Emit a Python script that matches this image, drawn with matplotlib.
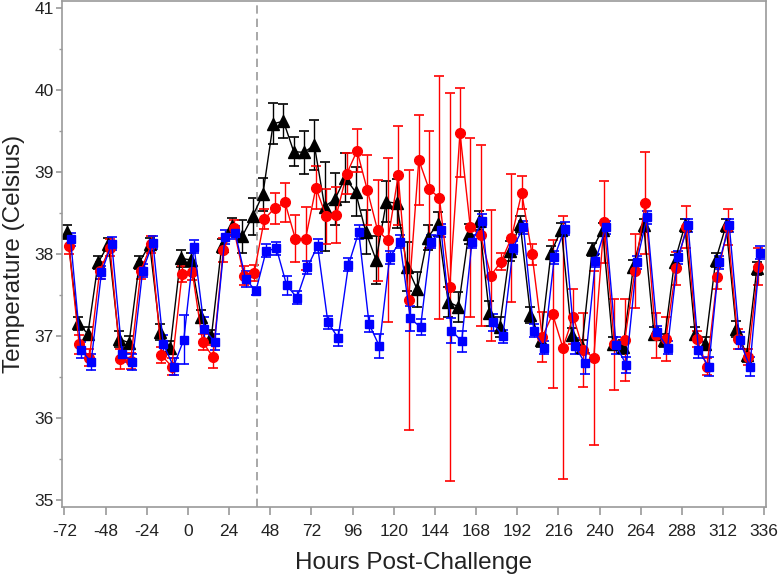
import numpy as np
import matplotlib
matplotlib.use("Agg")
import matplotlib.pyplot as plt
from matplotlib.ticker import MultipleLocator

plt.rcParams['font.family'] = ['Liberation Sans', 'DejaVu Sans']

# sampling times (hours post-challenge), every 6 h
hours = np.arange(-70, 333, 6)

black_vals = [
    38.27, 37.16, 37.03, 37.90, 38.12, 36.97, 36.92, 37.90, 38.12, 37.05, 36.86, 37.95,
    37.93, 37.24, 37.00, 38.10, 38.34, 38.22, 38.46, 38.73, 39.59, 39.62, 39.25, 39.24,
    39.33, 38.58, 38.67, 38.93, 38.76, 38.27, 37.93, 38.64, 38.62, 37.85, 37.57, 38.20,
    38.37, 37.42, 37.36, 38.25, 38.41, 37.28, 37.11, 38.04, 38.37, 37.26, 36.95, 38.02,
    38.30, 37.02, 36.87, 38.06, 38.30, 36.91, 36.87, 37.85, 38.35, 37.03, 36.95, 37.91,
    38.35, 37.03, 36.91, 37.93, 38.35, 37.09, 36.77, 37.83]
black_err = [
    0.08, 0.08, 0.08, 0.08, 0.08, 0.10, 0.08, 0.08, 0.08, 0.10, 0.08, 0.10,
    0.08, 0.08, 0.08, 0.08, 0.10, 0.20, 0.23, 0.20, 0.25, 0.21, 0.18, 0.26,
    0.31, 0.54, 0.32, 0.30, 0.30, 0.27, 0.29, 0.25, 0.30, 0.30, 0.21, 0.15,
    0.15, 0.18, 0.18, 0.12, 0.12, 0.15, 0.12, 0.12, 0.10, 0.10, 0.08, 0.08,
    0.08, 0.08, 0.08, 0.08, 0.08, 0.08, 0.08, 0.08, 0.08, 0.08, 0.08, 0.08,
    0.08, 0.08, 0.08, 0.08, 0.08, 0.10, 0.08, 0.08]

red_vals = [
    38.10, 36.90, 36.74, 37.80, 38.08, 36.72, 36.70, 37.80, 38.12, 36.77, 36.63, 37.76,
    37.78, 36.93, 36.75, 38.05, 38.32, 37.74, 37.77, 38.43, 38.56, 38.63, 38.19, 38.19,
    38.81, 38.46, 38.48, 38.98, 39.26, 38.78, 38.29, 38.17, 38.96, 37.44, 39.15, 38.79,
    38.69, 37.60, 39.48, 38.33, 38.23, 37.74, 37.91, 38.20, 38.75, 38.00, 36.99, 37.27,
    36.86, 37.24, 36.83, 36.74, 38.39, 36.90, 36.95, 37.80, 38.62, 37.01, 36.97, 37.83,
    38.33, 36.97, 36.63, 37.72, 38.33, 36.97, 36.75, 37.85]
red_err = [
    0.10, 0.12, 0.10, 0.10, 0.10, 0.12, 0.10, 0.10, 0.10, 0.10, 0.10, 0.10,
    0.10, 0.10, 0.14, 0.15, 0.10, 0.12, 0.10, 0.12, 0.19, 0.24, 0.29, 0.38,
    0.26, 0.34, 0.34, 0.25, 0.26, 0.43, 0.62, 1.00, 0.60, 1.58, 0.55, 0.71,
    1.48, 2.36, 0.54, 1.09, 1.10, 0.80, 0.10, 0.78, 0.20, 0.13, 0.30, 0.90,
    1.60, 0.33, 0.45, 1.06, 0.50, 0.55, 0.50, 0.45, 0.62, 0.27, 0.27, 0.20,
    0.26, 0.10, 0.10, 0.15, 0.22, 0.12, 0.10, 0.22]

blue_vals = [
    38.18, 36.83, 36.69, 37.78, 38.13, 36.79, 36.69, 37.80, 38.14, 36.91, 36.63, 36.96,
    38.09, 37.09, 36.93, 38.21, 38.26, 37.70, 37.55, 38.04, 38.07, 37.62, 37.47, 37.84,
    38.10, 37.17, 36.98, 37.87, 38.27, 37.15, 36.88, 37.96, 38.15, 37.22, 37.11, 38.15,
    38.29, 37.07, 36.94, 38.15, 38.41, 37.17, 37.00, 38.08, 38.33, 37.07, 36.86, 37.96,
    38.31, 36.88, 36.67, 37.92, 38.33, 36.89, 36.65, 37.90, 38.45, 37.05, 36.86, 37.96,
    38.35, 36.83, 36.63, 37.90, 38.35, 36.95, 36.63, 38.02]
blue_err = [
    0.08, 0.10, 0.10, 0.08, 0.08, 0.10, 0.10, 0.08, 0.08, 0.10, 0.10, 0.30,
    0.08, 0.15, 0.10, 0.08, 0.08, 0.10, 0.05, 0.08, 0.08, 0.12, 0.08, 0.08,
    0.08, 0.08, 0.10, 0.08, 0.08, 0.10, 0.15, 0.08, 0.08, 0.15, 0.10, 0.08,
    0.08, 0.15, 0.13, 0.08, 0.08, 0.10, 0.08, 0.08, 0.08, 0.08, 0.08, 0.08,
    0.08, 0.10, 0.13, 0.08, 0.08, 0.10, 0.10, 0.08, 0.08, 0.08, 0.08, 0.08,
    0.08, 0.10, 0.12, 0.08, 0.08, 0.10, 0.12, 0.08]

x_ticks = list(range(-72, 337, 24))
y_ticks = [35, 36, 37, 38, 39, 40, 41]
challenge_hour = 40

fig = plt.figure(figsize=(7.8, 5.78), dpi=100)
ax = fig.add_axes([62/780, 1 - 507/578, (766 - 62)/780, (507 - 1)/578])

series = [
    (black_vals, black_err, -0.3, 'black', '^', 8.0),
    (red_vals, red_err, 0.6, '#ff0000', 'o', 7.0),
    (blue_vals, blue_err, 1.6, '#0000ff', 's', 6.2),
]
for vals, err, off, col, mk, ms in series:
    ax.errorbar(hours + off, vals, yerr=err, fmt='-' + mk, color=col, ms=ms,
                lw=1.0, elinewidth=1.0, capsize=3.5, capthick=1.2)

ax.axvline(challenge_hour, color='#9a9a9a', ls='--', lw=1.2, dashes=(5, 3))

ax.set_xlim(-73.4, 337)
ax.set_ylim(34.92, 41.085)
ax.set_xticks(x_ticks)
ax.set_xticklabels([str(v) for v in x_ticks])
ax.set_yticks(y_ticks)
ax.yaxis.set_minor_locator(MultipleLocator(0.5))

for sp in ax.spines.values():
    sp.set_color('#9a9a9a')
    sp.set_linewidth(1.2)

ax.tick_params(axis='x', which='major', direction='out', length=6, width=1.2,
               color='#9a9a9a', labelsize=12.5, labelcolor='#222222', pad=6)
ax.tick_params(axis='y', which='major', direction='out', length=4, width=1.2,
               color='#9a9a9a', labelsize=12.5, labelcolor='#222222', pad=2)
ax.tick_params(axis='y', which='minor', direction='out', length=2.5, width=1.0,
               color='#9a9a9a')

ax.set_xlabel('Hours Post-Challenge', fontsize=17.5, color='#222222')
ax.xaxis.set_label_coords(0.5, -(552 - 507) / 506)
ax.set_ylabel('Temperature (Celsius)', fontsize=17.5, color='#222222')
ax.yaxis.set_label_coords(-(62 - 25) / 704, 0.5)

fig.savefig('out.png', dpi=100)
